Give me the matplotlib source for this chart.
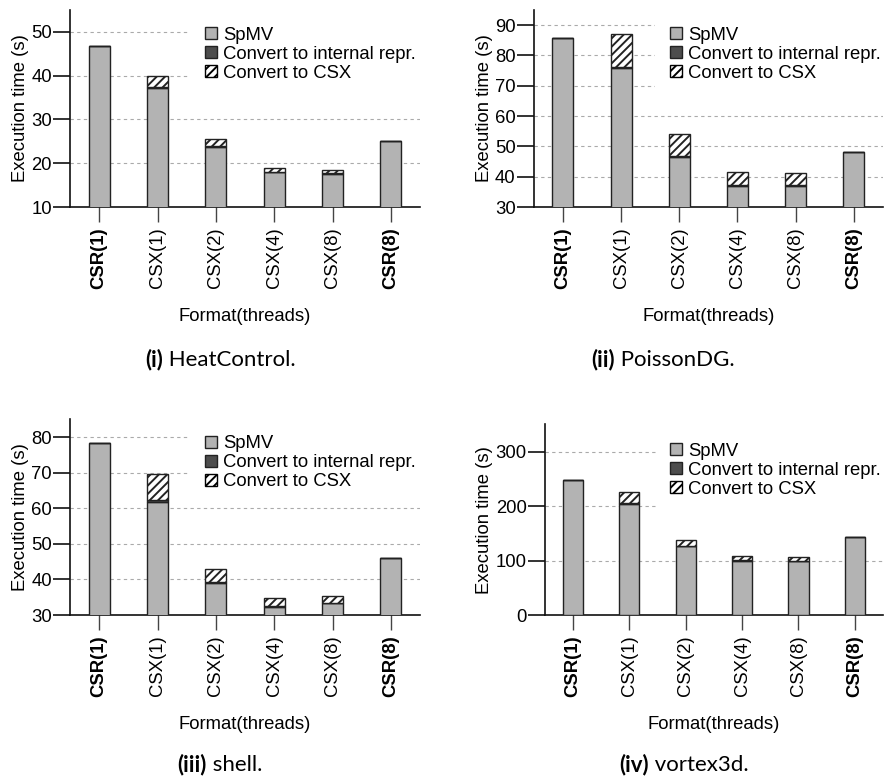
import matplotlib
matplotlib.use('Agg')
import matplotlib.pyplot as plt
import numpy as np
from matplotlib.patches import Patch

plt.rcParams['font.family'] = ['Liberation Sans', 'DejaVu Sans']
plt.rcParams['hatch.linewidth'] = 1.4
plt.rcParams['hatch.color'] = 'black'

formats = ['CSR(1)', 'CSX(1)', 'CSX(2)', 'CSX(4)', 'CSX(8)', 'CSR(8)']
bold_formats = ['CSR(1)', 'CSR(8)']
legend_labels = ['SpMV', 'Convert to internal repr.', 'Convert to CSX']

heat_spmv = [46.8, 37.2, 23.8, 17.9, 17.6, 25.1]
heat_internal = [0, 0.2, 0.1, 0.1, 0.1, 0]
heat_csx = [0, 2.6, 1.6, 0.9, 0.8, 0]

poisson_spmv = [85.8, 75.8, 46.4, 37.0, 37.0, 48.2]
poisson_internal = [0, 0.3, 0.3, 0.2, 0.2, 0]
poisson_csx = [0, 11.1, 7.3, 4.4, 4.0, 0]

shell_spmv = [78.2, 61.8, 38.9, 32.3, 33.3, 45.9]
shell_internal = [0, 0.5, 0.3, 0.2, 0.2, 0]
shell_csx = [0, 7.2, 3.6, 2.2, 1.9, 0]

vortex_spmv = [248.6, 204.4, 125.8, 100.0, 98.2, 143.6]
vortex_internal = [0, 1.0, 1.0, 0.8, 0.8, 0]
vortex_csx = [0, 20.6, 10.0, 7.2, 7.3, 0]

captions_num = ['(i)', '(ii)', '(iii)', '(iv)']
captions_name = ['HeatControl.', 'PoissonDG.', 'shell.', 'vortex3d.']

W, H = 886, 776
fig = plt.figure(figsize=(W / 100, H / 100), dpi=100)

# pixel geometry: left, top, width, height ; legend patch offset (x, row1 y) ; caption
panels = [
    dict(rect=(70, 10, 350, 197), ylim=(10, 55), yticks=[10, 20, 30, 40, 50],
         data=(heat_spmv, heat_internal, heat_csx), leg=(135, 25), cap=(220, 366)),
    dict(rect=(533.7, 10, 349.3, 197), ylim=(30, 95), yticks=[30, 40, 50, 60, 70, 80, 90],
         data=(poisson_spmv, poisson_internal, poisson_csx), leg=(136, 25), cap=(663, 366)),
    dict(rect=(70, 419.3, 350, 195.7), ylim=(30, 85), yticks=[30, 40, 50, 60, 70, 80],
         data=(shell_spmv, shell_internal, shell_csx), leg=(135, 24.4), cap=(220, 771)),
    dict(rect=(544.7, 424.3, 338.3, 190.7), ylim=(0, 350), yticks=[0, 100, 200, 300],
         data=(vortex_spmv, vortex_internal, vortex_csx), leg=(125.6, 26.7), cap=(684, 771)),
]

gray = '#b3b3b3'
dark = '#4d4d4d'
edge = '#222222'
fs = 13.3
em = fs * 100 / 72
bpad = 0.8

caption_items = []
for i, p in enumerate(panels):
    l, t, w, h = p['rect']
    ax = fig.add_axes([l / W, 1 - (t + h) / H, w / W, h / H])
    spmv, internal, csx = [np.array(a, dtype=float) for a in p['data']]
    x = np.arange(len(formats))
    bw = 0.36
    ax.bar(x, spmv, bw, color=gray, edgecolor=edge, linewidth=1.0, zorder=3)
    ax.bar(x, internal, bw, bottom=spmv, color=dark, edgecolor=edge, linewidth=1.0, zorder=3)
    ax.bar(x, csx, bw, bottom=spmv + internal, color='white', edgecolor=edge,
           hatch='////', linewidth=1.0, zorder=3)
    ax.set_xlim(-0.5, len(formats) - 0.5)
    ax.set_ylim(*p['ylim'])
    ax.set_yticks(p['yticks'])
    ax.yaxis.grid(True, color='#aaaaaa', linestyle=(0, (3, 3)), linewidth=0.8, zorder=0)
    ax.set_axisbelow(True)
    for s in ['top', 'right']:
        ax.spines[s].set_visible(False)
    for s in ['left', 'bottom']:
        ax.spines[s].set_linewidth(1.2)
        ax.spines[s].set_color('#111111')
    ax.set_xticks(x)
    ax.set_xticklabels(formats, rotation=90, fontsize=fs)
    for lab in ax.get_xticklabels():
        if lab.get_text() in bold_formats:
            lab.set_fontweight('bold')
    ax.tick_params(axis='x', length=11, width=1.0, color='#444444', pad=3.5)
    ax.tick_params(axis='y', length=12, width=1.2, color='#111111', pad=1, labelsize=fs)
    ax.set_ylabel('Execution time (s)', fontsize=fs, labelpad=1.5)
    ax.set_xlabel('Format(threads)', fontsize=fs, labelpad=13.5)

    handles = [Patch(facecolor=gray, edgecolor=edge, linewidth=1.0),
               Patch(facecolor=dark, edgecolor=edge, linewidth=1.0),
               Patch(facecolor='white', edgecolor='black', hatch='////', linewidth=1.0)]
    px, py = p['leg']
    lx = l + px - bpad * em
    ly = t + py - bpad * em - 0.46 * em
    leg = ax.legend(handles, legend_labels, loc='upper left',
                    bbox_to_anchor=(lx / W, 1 - ly / H), bbox_transform=fig.transFigure,
                    fontsize=fs, frameon=True, fancybox=False, framealpha=1.0,
                    edgecolor='none', facecolor='white', borderpad=bpad,
                    borderaxespad=0, handlelength=0.65, handleheight=0.65,
                    handletextpad=0.33, labelspacing=0.11)
    leg.set_zorder(5)

    cx, cy = p['cap']
    caption_items.append((cx, 1 - cy / H, captions_num[i], captions_name[i]))

# captions: bold number + regular name, centred as a group
cap_fs = 16
texts = []
for cx, cy, num, name in caption_items:
    t1 = fig.text(0, cy, num, fontsize=cap_fs, fontweight='bold', family=['Lato', 'DejaVu Sans'],
                  ha='left', va='baseline')
    t2 = fig.text(0, cy, ' ' + name, fontsize=cap_fs, family=['Lato', 'DejaVu Sans'],
                  ha='left', va='baseline')
    texts.append((cx, t1, t2))
fig.canvas.draw()
r = fig.canvas.get_renderer()
for cx, t1, t2 in texts:
    w1 = t1.get_window_extent(r).width
    w2 = t2.get_window_extent(r).width
    x0 = cx - (w1 + w2) / 2
    t1.set_x(x0 / W)
    t2.set_x((x0 + w1) / W)

fig.savefig('out.png', dpi=100)
